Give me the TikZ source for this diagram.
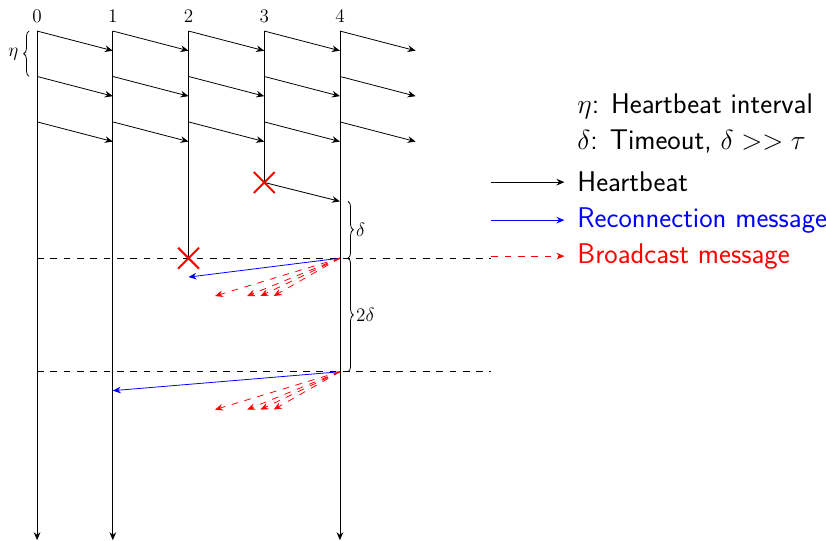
\documentclass[tikz,border=0pt]{standalone}
\usetikzlibrary{arrows.meta,decorations.pathreplacing,shapes.misc}

\begin{document}
\begin{tikzpicture}[>={Stealth[length=6pt,width=5pt,inset=2pt]},semithick,
  msgdash/.style={dash pattern=on 5pt off 5pt},
  recon/.style={->,blue},
  bcast/.style={->,red,msgdash},
  fail/.style={draw=red,cross out,line width=1.5pt,minimum size=0.5cm,inner sep=0pt},
  brc/.style={decorate,decoration={brace,amplitude=4pt,raise=6pt}},
  lbl/.style={font=\Large},
  legend/.style={anchor=base west,inner xsep=7.5pt,font=\fontsize{21.4}{26}\selectfont\sffamily}]
\useasboundingbox (-0.98,0.82) rectangle (20.84,-13.47);

% processes
\foreach \i in {0,...,4} {
  \coordinate (t\i) at (2*\i,0);
  \coordinate (b\i) at (2*\i,-13.45);
  \node[lbl] (n\i) at (2*\i,0.38) {$\i$};
}
\coordinate (x2) at (4,-6);
\coordinate (x3) at (6,-4);
\draw[->] (t0) -- (b0);
\draw[->] (t1) -- (b1);
\draw[->] (t4) -- (b4);
\draw (t2) -- (x2);
\draw (t3) -- (x3);

% heartbeats
\foreach \i in {0,...,4}
  \foreach \k in {0,1,2} {
    \coordinate (s\i\k) at (2*\i,-1.2*\k);
    \coordinate (e\i\k) at (2*\i+2,-1.2*\k-0.52);
    \draw[->] (s\i\k) -- (e\i\k);
  }
\coordinate (hx) at (8,-4.5);
\draw[->] (x3) -- (hx);

% braces
\draw[brc] (s01) -- (s00);
\node[lbl] (eta) at (-0.63,-0.6) {$\eta$};
\coordinate (f1) at (8,-6);
\coordinate (f2) at (8,-9);
\draw[brc] (hx) -- (f1);
\draw[brc] (f1) -- (f2);
\node[lbl,anchor=west,inner sep=0pt] (dl1) at (8.42,-5.25) {$\delta$};
\node[lbl,anchor=west,inner sep=0pt] (dl2) at (8.42,-7.5) {$2\delta$};

% timeouts
\coordinate (l1) at (0,-6);
\coordinate (l2) at (0,-9);
\coordinate (m1) at (12,-6);
\coordinate (m2) at (12,-9);
\draw[msgdash] (l1) -- (m1);
\draw[msgdash] (l2) -- (m2);

% reconnection and broadcast
\coordinate (r2) at (4,-6.5);
\coordinate (r1) at (2,-9.5);
\draw[recon] (f1) -- (r2);
\draw[recon] (f2) -- (r1);
\foreach \x [count=\j] in {4.7,5.55,5.9,6.25} {
  \coordinate (ba\j) at (\x,-7);
  \coordinate (bb\j) at (\x,-10);
  \draw[bcast] (f1) -- (ba\j);
  \draw[bcast] (f2) -- (bb\j);
}
\node[fail] (k2) at (x2) {};
\node[fail] (k3) at (x3) {};

% legend
\node[legend] (leta) at (14,-2.17) {$\eta$: Heartbeat interval};
\node[legend] (ldelta) at (14,-3.14) {$\delta$: Timeout, $\delta >> \tau$};
\node[legend] (lhb) at (14,-4.25) {Heartbeat};
\node[legend,text=blue] (lrec) at (14,-5.18) {Reconnection message};
\node[legend,text=red] (lbc) at (14,-6.13) {Broadcast message};
\draw[->] ([xshift=-2cm]lhb.west) -- ([xshift=-2pt]lhb.west);
\draw[recon] ([xshift=-2cm]lrec.west) -- ([xshift=-2pt]lrec.west);
\draw[bcast] ([xshift=-2cm]lbc.west) -- ([xshift=-2pt]lbc.west);
\end{tikzpicture}
\end{document}
